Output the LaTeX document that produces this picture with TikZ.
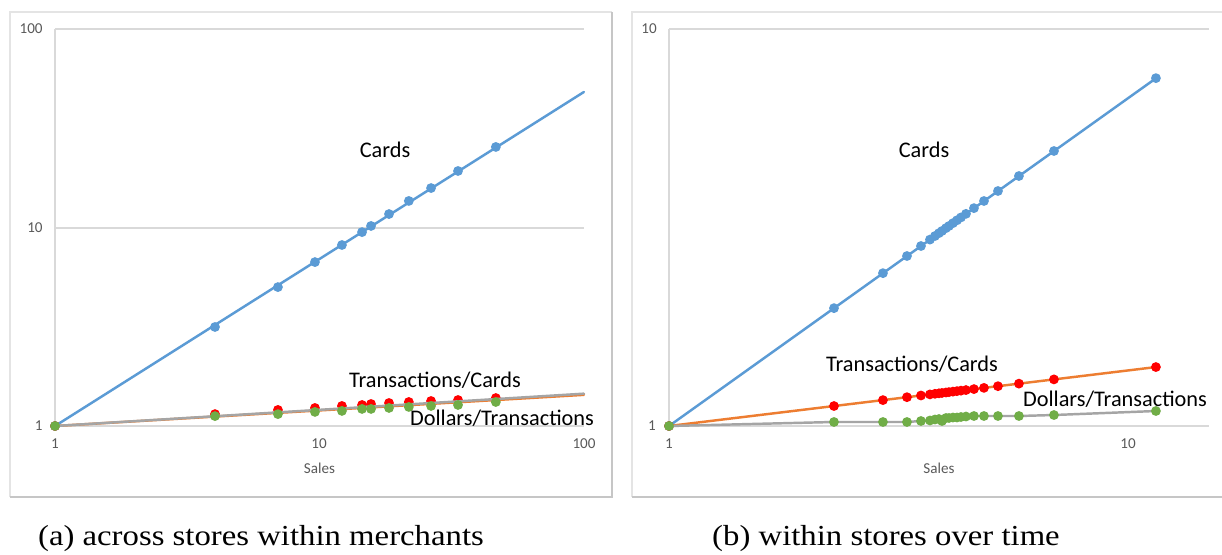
\documentclass[tikz,border=0pt]{standalone}
\usepackage{fontspec}
\setmainfont{Liberation Serif}
\newfontfamily\chartfont{Carlito}
\newfontfamily\capfont[FakeStretch=1.13]{Liberation Serif}

\definecolor{cardsblue}{HTML}{5B9BD5}
\definecolor{tcorange}{HTML}{ED7D31}
\definecolor{dtgray}{HTML}{A5A5A5}
\definecolor{tcred}{HTML}{FF0000}
\definecolor{dtgreen}{HTML}{70AD47}
\definecolor{gridgray}{HTML}{D9D9D9}
\definecolor{framegray}{HTML}{E4E4E4}
\definecolor{frameshade}{HTML}{C6C6C6}
\definecolor{tickgray}{HTML}{595959}

\begin{document}
\begin{tikzpicture}[x=0.02cm, y=-0.02cm,
  panel/.style={draw=framegray, line width=0.6pt},
  panelshade/.style={draw=frameshade, line width=0.6pt},
  gridline/.style={draw=gridgray, line width=0.8pt},
  ticklabel/.style={font=\chartfont\fontsize{8.6}{10}\selectfont, text=tickgray, inner sep=0pt},
  serieslabel/.style={font=\chartfont\fontsize{12.7}{15}\selectfont, inner sep=0pt},
  subcaption/.style={font=\capfont\fontsize{16.5}{20}\selectfont, inner sep=0pt, anchor=base},
  seriesline/.style={line width=1.4pt, line cap=round, line join=round},
  marker/.style={radius=2.8pt}]

  \useasboundingbox[fill=white] (0,0) rectangle (1222,554);

  % ---------------- panel (a) ----------------
  \draw[panel] (612,12) -- (10,12) -- (10,497);
  \draw[panelshade] (10,497) -- (612,497) -- (612,12);

  % grid: decades 1, 10, 100 on the value axis
  \draw[gridline] (55,29) -- (584,29);
  \draw[gridline] (55,228) -- (584,228);
  \draw[gridline] (55,426) -- (584,426);
  \draw[gridline] (55,29) -- (55,426);

  \node[ticklabel, anchor=east] (ay100) at (43,29) {100};
  \node[ticklabel, anchor=east] (ay10)  at (43,228) {10};
  \node[ticklabel, anchor=east] (ay1)   at (43,426) {1};
  \node[ticklabel] (ax1)   at (55,444) {1};
  \node[ticklabel] (ax10)  at (319,444) {10};
  \node[ticklabel] (ax100) at (584,444) {100};
  \node[ticklabel] (axtitle) at (319.5,468) {Sales};

  % data in decades: (log10 Sales, log10 value)
  \begin{scope}[shift={(55,426)}, x=5.29cm, y=3.97cm]
    % Cards
    \draw[seriesline, cardsblue] (0,0) -- (2,1.683);
    \foreach \lx/\ly in {0/0, 0.605/0.499, 0.843/0.700, 0.983/0.826, 1.085/0.912,
        1.161/0.977, 1.195/1.008, 1.263/1.068, 1.338/1.134, 1.422/1.199,
        1.524/1.285, 1.667/1.406}
      \fill[cardsblue] (\lx,\ly) circle[marker];
    % Transactions/Cards
    \draw[seriesline, tcorange] (0,0) -- (2,0.157);
    \foreach \lx/\ly in {0/0, 0.605/0.060, 0.843/0.081, 0.983/0.091, 1.085/0.101,
        1.161/0.106, 1.195/0.111, 1.263/0.116, 1.338/0.121, 1.422/0.126,
        1.524/0.131, 1.667/0.141}
      \fill[tcred] (\lx,\ly) circle[marker];
    % Dollars/Transactions
    \draw[seriesline, dtgray] (0,0) -- (2,0.163);
    \foreach \lx/\ly in {0/0, 0.605/0.050, 0.843/0.060, 0.983/0.071, 1.085/0.076,
        1.161/0.086, 1.195/0.086, 1.263/0.091, 1.338/0.096, 1.422/0.101,
        1.524/0.106, 1.667/0.121}
      \fill[dtgreen] (\lx,\ly) circle[marker];
  \end{scope}

  \node[serieslabel] (acards) at (385,150) {Cards};
  \node[serieslabel] (atc) at (435,380) {Transactions/Cards};
  \node[serieslabel] (adt) at (502,418) {Dollars/Transactions};

  \node[subcaption] (capa) at (261,545) {(a) across stores within merchants};

  % ---------------- panel (b) ----------------
  \draw[panel] (1222,12) -- (632,12) -- (632,497);
  \draw[panelshade] (632,497) -- (1222,497);

  \draw[gridline] (669,29) -- (1209,29);
  \draw[gridline] (669,426) -- (1209,426);
  \draw[gridline] (669,29) -- (669,426);

  \node[ticklabel, anchor=east] (by10) at (657,29) {10};
  \node[ticklabel, anchor=east] (by1)  at (656,426) {1};
  \node[ticklabel] (bx1)  at (669,444) {1};
  \node[ticklabel] (bx10) at (1128,444) {10};
  \node[ticklabel] (bxtitle) at (939,468) {Sales};

  \begin{scope}[shift={(669,426)}, x=9.18cm, y=7.94cm]
    % Cards
    \draw[seriesline, cardsblue] (0,0) -- (1.061,0.876);
    \foreach \lx in {0, 0.3595, 0.4662, 0.5185, 0.549, 0.5686, 0.5795, 0.5882,
        0.5948, 0.6035, 0.61, 0.6187, 0.6275, 0.6362, 0.6471, 0.6645, 0.6863,
        0.7168, 0.7625, 0.8388, 1.061}
      \fill[cardsblue] (\lx,{0.826*\lx}) circle[marker];
    % Transactions/Cards
    \draw[seriesline, tcorange] (0,0) -- (1.061,0.1485);
    \foreach \lx in {0, 0.3595, 0.4662, 0.5185, 0.549, 0.5686, 0.5795, 0.5882,
        0.5948, 0.6035, 0.61, 0.6187, 0.6275, 0.6362, 0.6471, 0.6645, 0.6863,
        0.7168, 0.7625, 0.8388, 1.061}
      \fill[tcred] (\lx,{0.140*\lx}) circle[marker];
    % Dollars/Transactions
    \draw[seriesline, dtgray] plot coordinates {(0,0) (0.3595,0.0101)
        (0.4662,0.0101) (0.5185,0.0101) (0.549,0.0126) (0.5686,0.0139)
        (0.5795,0.0164) (0.5882,0.0176) (0.5948,0.0126) (0.6035,0.0202)
        (0.61,0.0202) (0.6187,0.0214) (0.6275,0.0214) (0.6362,0.0227)
        (0.6471,0.0239) (0.6645,0.0252) (0.6863,0.0252) (0.7168,0.0252)
        (0.7625,0.0252) (0.8388,0.0277) (1.061,0.0378)};
    \foreach \lx/\ly in {0/0, 0.3595/0.0101, 0.4662/0.0101, 0.5185/0.0101,
        0.549/0.0126, 0.5686/0.0139, 0.5795/0.0164, 0.5882/0.0176,
        0.5948/0.0126, 0.6035/0.0202, 0.61/0.0202, 0.6187/0.0214,
        0.6275/0.0214, 0.6362/0.0227, 0.6471/0.0239, 0.6645/0.0252,
        0.6863/0.0252, 0.7168/0.0252, 0.7625/0.0252, 0.8388/0.0277,
        1.061/0.0378}
      \fill[dtgreen] (\lx,\ly) circle[marker];
  \end{scope}

  \node[serieslabel] (bcards) at (924,150) {Cards};
  \node[serieslabel] (btc) at (912,364) {Transactions/Cards};
  \node[serieslabel] (bdt) at (1115,399) {Dollars/Transactions};

  \node[subcaption] (capb) at (886,545) {(b) within stores over time};
\end{tikzpicture}
\end{document}
